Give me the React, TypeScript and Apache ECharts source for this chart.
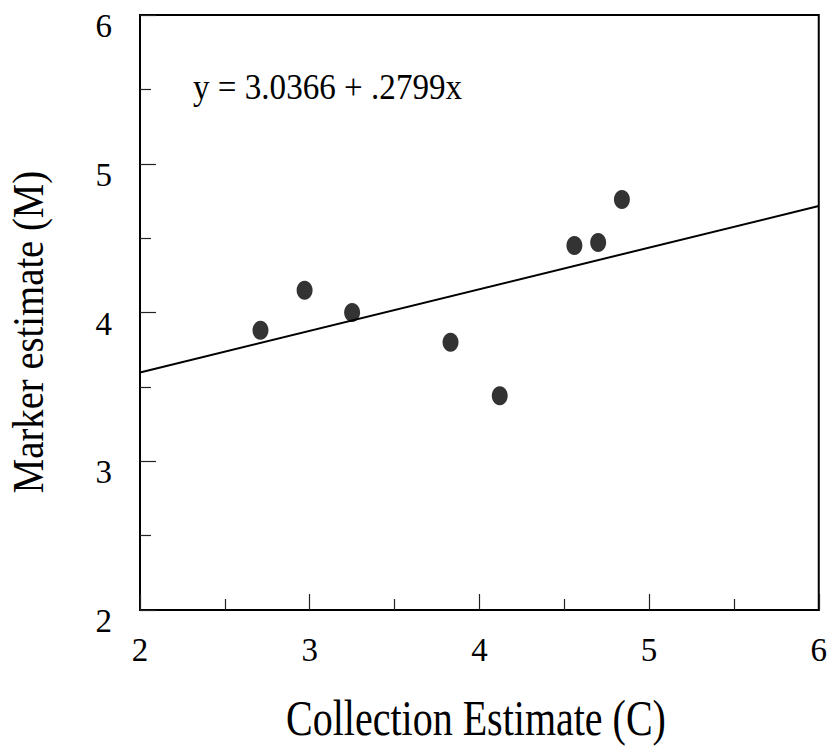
import React, { useEffect, useRef } from 'react';
import * as echarts from 'echarts';

// Data
const COLLECTION_ESTIMATE = [2.71, 2.97, 3.25, 3.83, 4.12, 4.56, 4.70, 4.84];
const MARKER_ESTIMATE = [3.88, 4.15, 4.0, 3.8, 3.44, 4.45, 4.47, 4.76];
// Regression line as printed on the chart
const INTERCEPT = 3.0366;
const SLOPE = 0.2799;
const LINE_X = [2, 6];
const AXIS_MIN = 2;
const AXIS_MAX = 6;
const AXIS_STEP = 1;
const EQUATION_TEXT = 'y = 3.0366 + .2799x';
const X_NAME = 'Collection Estimate (C)';
const Y_NAME = 'Marker estimate (M)';

const FONT = '"Liberation Serif", "Times New Roman", serif';

export default function App() {
  const ref = useRef<HTMLDivElement>(null);

  useEffect(() => {
    if (!ref.current) return;
    const chart = echarts.init(ref.current, null, { renderer: 'svg' });

    const axisCommon = {
      type: 'value',
      min: AXIS_MIN,
      max: AXIS_MAX,
      interval: AXIS_STEP,
      axisLine: { show: true, onZero: false, lineStyle: { color: '#000', width: 2 } },
      axisTick: { show: true, inside: true, length: 16, lineStyle: { color: '#222', width: 1.2 } },
      minorTick: { show: true, splitNumber: 2, length: 11, lineStyle: { color: '#222', width: 1.2 } },
      splitLine: { show: false },
      minorSplitLine: { show: false },
    };

    chart.setOption({
      animation: false,
      backgroundColor: '#fff',
      grid: {
        left: 140,
        right: 10,
        top: 15,
        bottom: 141,
        show: true,
        borderColor: '#000',
        borderWidth: 2,
        backgroundColor: 'transparent',
      },
      xAxis: {
        ...axisCommon,
        axisLabel: { fontFamily: FONT, fontSize: 33, color: '#000', margin: 23 },
      },
      yAxis: {
        ...axisCommon,
        axisLabel: {
          fontFamily: FONT,
          fontSize: 33,
          color: '#000',
          margin: 28,
          verticalAlign: 'top',
          lineHeight: 22,
        },
      },
      series: [
        {
          type: 'line',
          data: LINE_X.map((x) => [x, INTERCEPT + SLOPE * x]),
          symbol: 'none',
          lineStyle: { color: '#000', width: 2 },
          z: 2,
          silent: true,
        },
        {
          type: 'scatter',
          data: COLLECTION_ESTIMATE.map((x, i) => [x, MARKER_ESTIMATE[i]]),
          symbol: 'circle',
          symbolSize: [16, 19],
          itemStyle: { color: '#000' },
          z: 3,
        },
      ],
      graphic: [
        {
          type: 'text',
          x: 193,
          y: 87,
          scaleX: 0.92,
          style: {
            text: EQUATION_TEXT,
            fontFamily: FONT,
            fontSize: 36,
            fill: '#000',
            textAlign: 'left',
            textVerticalAlign: 'middle',
          },
        },
        {
          type: 'text',
          x: 476,
          y: 718,
          scaleX: 0.8,
          style: {
            text: X_NAME,
            fontFamily: FONT,
            fontSize: 50,
            fill: '#000',
            textAlign: 'center',
            textVerticalAlign: 'middle',
          },
        },
        {
          type: 'text',
          x: 28,
          y: 332,
          rotation: Math.PI / 2,
          scaleX: 0.86,
          style: {
            text: Y_NAME,
            fontFamily: FONT,
            fontSize: 45,
            fill: '#000',
            textAlign: 'center',
            textVerticalAlign: 'middle',
          },
        },
      ],
    });

    return () => chart.dispose();
  }, []);

  return (
    <div
      ref={ref}
      style={{ position: 'fixed', left: 0, top: 0, width: 830, height: 751, background: '#fff' }}
    />
  );
}
